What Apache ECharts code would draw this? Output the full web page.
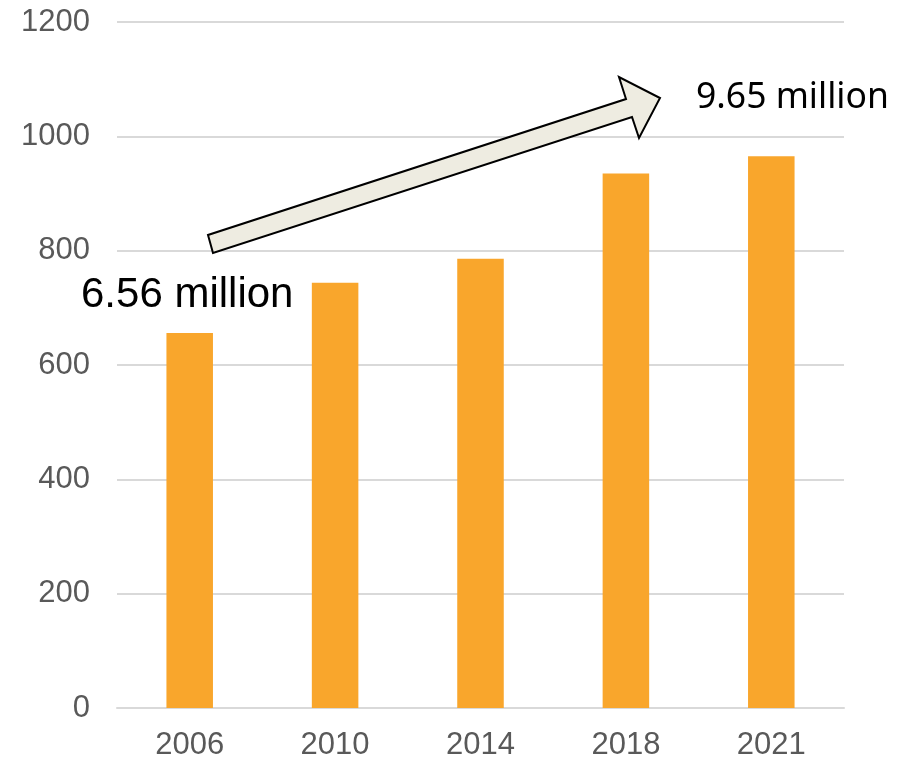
<!DOCTYPE html>
<html>
<head>
<meta charset="utf-8">
<script src="https://cdn.jsdelivr.net/npm/echarts@6/dist/echarts.min.js"></script>
<style>
html,body{margin:0;padding:0;background:#fff;}
#chart{width:906px;height:761px;}
</style>
</head>
<body>
<div id="chart"></div>
<script>
const categories = ['2006', '2010', '2014', '2018', '2021'];
const values = [656, 744, 786, 935, 965];
const yTicks = [0, 200, 400, 600, 800, 1000, 1200];
const startLabel = '6.56 million';
const endLabel = '9.65 million';

const chart = echarts.init(document.getElementById('chart'));
chart.setOption({
  animation: false,
  backgroundColor: '#ffffff',
  grid: { left: 117, right: 62, top: 22, bottom: 51, containLabel: false },
  xAxis: {
    type: 'category',
    data: categories,
    axisLine: { show: true, lineStyle: { color: '#d9d9d9', width: 2 } },
    axisTick: { show: false },
    axisLabel: { color: '#595959', fontSize: 31, fontFamily: 'Liberation Sans, Arial, sans-serif', margin: 22 }
  },
  yAxis: {
    type: 'value',
    min: yTicks[0],
    max: yTicks[yTicks.length - 1],
    interval: 200,
    axisLine: { show: false },
    axisTick: { show: false },
    splitLine: { lineStyle: { color: '#d9d9d9', width: 2 } },
    axisLabel: {
      color: '#595959', fontSize: 31, fontFamily: 'Liberation Sans, Arial, sans-serif', margin: 27,
      formatter: function (v) { return String(v); }
    }
  },
  series: [{
    type: 'bar',
    data: values,
    barWidth: '32%',
    itemStyle: { color: '#F9A62C' }
  }],
  graphic: [
    {
      type: 'polygon',
      shape: {
        points: [[213, 253], [208, 235], [626, 99], [619, 77], [660, 98], [639, 138], [632, 117]]
      },
      style: { fill: '#EEECE1', stroke: '#000000', lineWidth: 2 },
      z: 100
    },
    {
      type: 'text',
      left: 81,
      top: 274,
      style: { text: startLabel, fill: '#000000', font: '42px "Liberation Sans", Arial, sans-serif' },
      z: 100
    },
    {
      type: 'text',
      left: 696,
      top: 80,
      style: { text: endLabel, fill: '#000000', font: '35.5px "Noto Sans", "Open Sans", sans-serif' },
      z: 100
    }
  ]
});
</script>
</body>
</html>
